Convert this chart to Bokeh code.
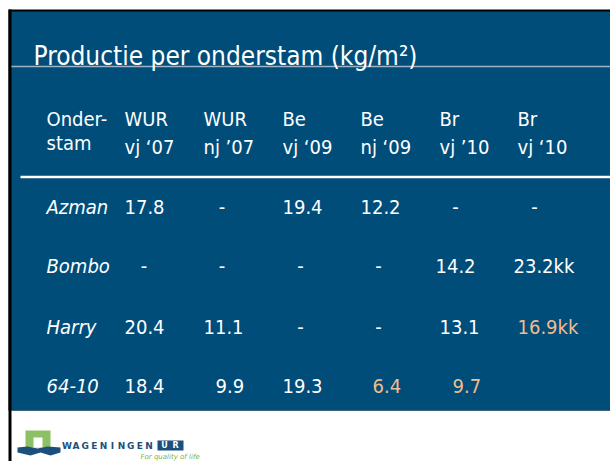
from bokeh.plotting import figure
from bokeh.models import Range1d
from bokeh.embed import file_html
from bokeh.resources import INLINE
from bokeh.core.properties import value

# ---------------- data ----------------
title = "Productie per onderstam (kg/m²)"
header_top = ["WUR", "WUR", "Be", "Be", "Br", "Br"]
header_bottom = ["vj \u201807", "nj \u201907", "vj \u201809", "nj \u201809", "vj \u201910", "vj \u201810"]
rootstocks = ["Azman", "Bombo", "Harry", "64-10"]
azman = [17.8, "-", 19.4, 12.2, "-", "-"]
bombo = ["-", "-", "-", "-", 14.2, 23.2]
harry = [20.4, 11.1, "-", "-", 13.1, 16.9]
r6410 = [18.4, 9.9, 19.3, 6.4, 9.7, ""]
rows = [azman, bombo, harry, r6410]
suffix_kk = [(1, 5), (2, 5)]          # cells written as "..kk"
highlight = [(2, 5), (3, 3), (3, 4)]  # cells in orange

# ---------------- layout (page px) ----------------
W, H = 610, 461
BLUE = "#004D7A"
ORANGE = "#F3BC8B"
FONT = "'DejaVu Sans Condensed', 'Roboto Condensed', Roboto, sans-serif"
FS = "20px"
col_left = [124, 203, 282, 360, 439, 517]
dash_center = [143.5, 221.5, 300, 378, 455, 534]
cell_left = {(1, 4): 435, (1, 5): 513, (3, 1): 215, (3, 3): 372, (3, 4): 452}
row_mid = [206, 265.5, 326, 385]

p = figure(width=W, height=H, output_backend="svg", toolbar_location=None,
           x_range=Range1d(0, W), y_range=Range1d(H, 0),
           x_axis_type=None, y_axis_type=None, min_border=0,
           background_fill_color="white", border_fill_color="white")
p.outline_line_color = None
p.grid.visible = False

def txt(xs, ys, texts, color="white", size=FS, style="normal", align="left", font=FONT):
    p.text(x=xs, y=ys, text=texts, text_color=color, text_font=value(font),
           text_font_size=size, text_font_style=style, text_align=align,
           text_baseline="middle")

# slide frame
p.quad(left=[8], right=[610], top=[9], bottom=[410], fill_color="black", line_color=None)
p.quad(left=[8], right=[11], top=[9], bottom=[461], fill_color="black", line_color=None)
p.quad(left=[11], right=[610], top=[11], bottom=[410], fill_color=BLUE, line_color=None)

# title + rule
p.segment(x0=[11], y0=[66], x1=[610], y1=[66], line_color="#9FB3C6", line_width=1.5)
txt([33], [55], [title], size="26px")

# header
txt([46], [118], ["Onder-"])
txt([46], [142], ["stam"])
txt(col_left, [118] * 6, header_top)
txt(col_left, [146] * 6, header_bottom)
p.segment(x0=[20], y0=[176.5], x1=[610], y1=[176.5], line_color="white", line_width=2.5)

# row labels
txt([46] * 4, row_mid, rootstocks, style="italic")

# cells
for i, row in enumerate(rows):
    for j, v in enumerate(row):
        if v == "":
            continue
        col = ORANGE if (i, j) in highlight else "white"
        if v == "-":
            txt([dash_center[j]], [row_mid[i]], ["-"], color=col, align="center")
        else:
            s = f"{v:.1f}" + ("kk" if (i, j) in suffix_kk else "")
            txt([cell_left.get((i, j), col_left[j])], [row_mid[i]], [s], color=col)

# logo (decorative)
NAVY = "#1D4F7C"
p.quad(left=[25], right=[50], top=[430], bottom=[447], fill_color="#8DC063", line_color=None)
p.quad(left=[33], right=[42], top=[437], bottom=[447], fill_color="white", line_color=None)
p.patch(x=[17, 27, 37, 47, 60, 60, 50, 40, 30, 17],
        y=[447, 446, 448, 446, 447, 452, 455, 452, 455, 452],
        fill_color=NAVY, line_color=None)
logo_letters = list("WAGENINGEN")
txt([66.5 + 9.1 * k for k in range(len(logo_letters))], [445] * len(logo_letters), logo_letters,
    color=NAVY, size="9px", style="bold", align="center", font="DejaVu Sans")
p.quad(left=[157], right=[183], top=[440], bottom=[450], fill_color=NAVY, line_color=None)
txt([164, 175], [445, 445], ["U", "R"], size="8px", style="bold", align="center", font="DejaVu Sans")
txt([140], [456], ["For quality of life"], color="#7DB34A", size="7px", style="italic",
    font="DejaVu Sans")

open("out.html", "w").write(file_html(p, INLINE))
